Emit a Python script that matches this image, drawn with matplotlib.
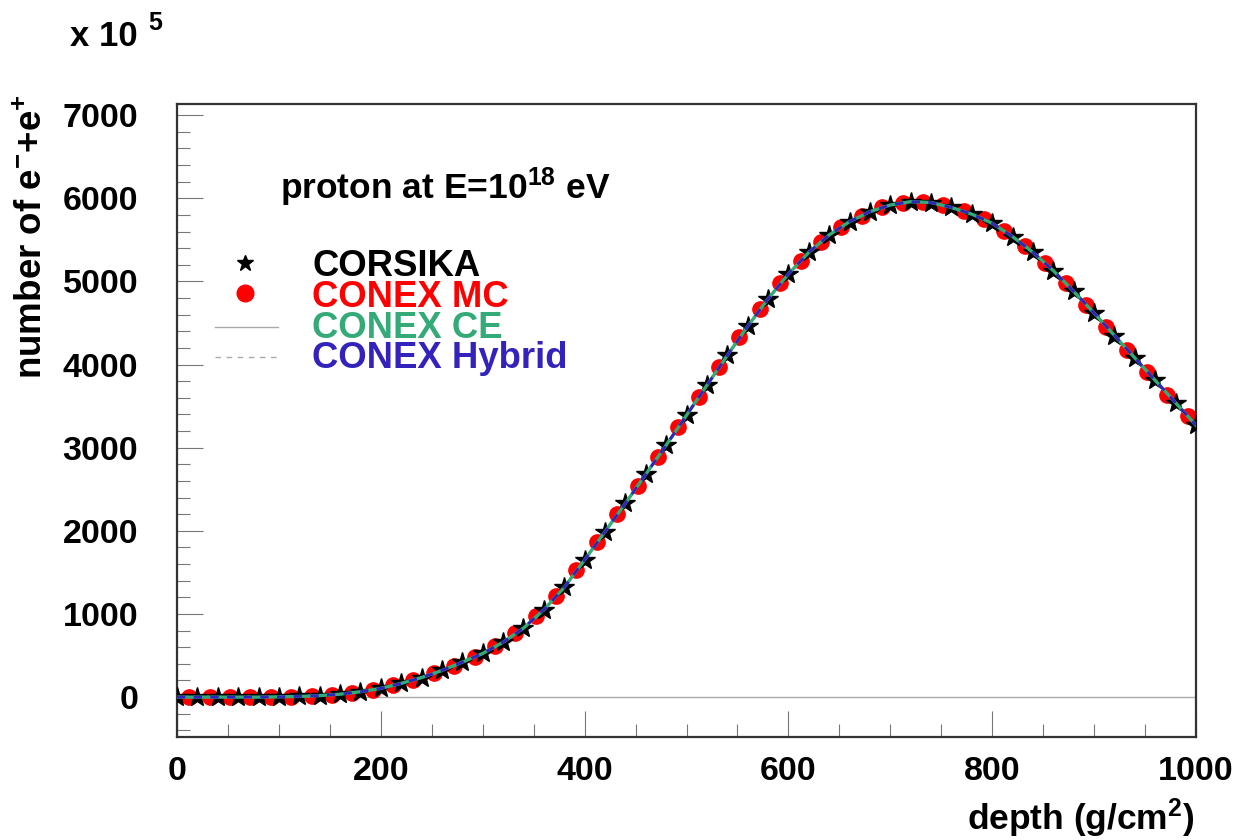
import numpy as np
import matplotlib
matplotlib.use("Agg")
import matplotlib.pyplot as plt
from matplotlib.ticker import MultipleLocator

# ---------------- data ----------------
corsika_depth = list(range(0, 1001, 20))
corsika_n = [0, 0, 0, 0, 0, 3, 8, 18, 35, 65,
             105, 165, 235, 320, 420, 525, 660, 830, 1050, 1320,
             1650, 1990, 2330, 2680, 3030, 3390, 3750, 4110, 4460, 4790,
             5090, 5350, 5560, 5720, 5840, 5920, 5960, 5950, 5890, 5810,
             5700, 5540, 5350, 5130, 4880, 4620, 4350, 4080, 3810, 3540,
             3270]

mc_depth = list(range(12, 1001, 20))
mc_n = [0, 0, 0, 0, 2, 6, 14, 28, 52, 88,
        140, 205, 285, 380, 480, 610, 770, 970, 1220, 1530,
        1860, 2200, 2540, 2890, 3250, 3610, 3970, 4330, 4670, 4980,
        5250, 5480, 5660, 5790, 5890, 5950, 5960, 5920, 5850, 5750,
        5610, 5430, 5220, 4980, 4720, 4450, 4180, 3910, 3640, 3380]

ce_depth = list(range(0, 1001, 20))
ce_n = [0, 0, 0, 0, 0, 3, 8, 18, 35, 65,
        105, 165, 235, 320, 420, 525, 660, 830, 1050, 1320,
        1650, 1990, 2330, 2680, 3030, 3390, 3750, 4110, 4460, 4790,
        5090, 5350, 5560, 5720, 5840, 5920, 5960, 5950, 5890, 5810,
        5700, 5540, 5350, 5130, 4880, 4620, 4350, 4080, 3810, 3540,
        3270]

hyb_depth = list(range(0, 1001, 20))
hyb_n = [0, 0, 0, 0, 0, 3, 8, 18, 35, 65,
         105, 165, 235, 320, 420, 525, 660, 830, 1050, 1320,
         1650, 1990, 2330, 2680, 3030, 3390, 3750, 4110, 4460, 4790,
         5090, 5350, 5560, 5720, 5840, 5920, 5960, 5950, 5890, 5810,
         5700, 5540, 5350, 5130, 4880, 4620, 4350, 4080, 3810, 3540,
         3270]

legend_labels = ["CORSIKA", "CONEX MC", "CONEX CE", "CONEX Hybrid"]
x_label = "depth (g/cm$^{2}$)"
y_label = "number of e$^{-}$+e$^{+}$"
annot = "proton at E=10$^{18}$ eV"

# ---------------- style ----------------
FONT = "Liberation Sans"
plt.rcParams["font.family"] = [FONT, "DejaVu Sans"]
plt.rcParams["font.weight"] = "bold"
plt.rcParams["mathtext.fontset"] = "custom"
plt.rcParams["mathtext.rm"] = FONT + ":bold"
plt.rcParams["mathtext.it"] = FONT + ":bold"
plt.rcParams["mathtext.bf"] = FONT + ":bold"
plt.rcParams["mathtext.default"] = "rm"

GREEN = "#33aa77"
BLUE = "#3322bb"
RED = "#ff0000"

W, H = 1239, 840
fig = plt.figure(figsize=(W / 100, H / 100), dpi=100)
L, R, T, B = 177, 1196, 104, 737
ax = fig.add_axes([L / W, 1 - B / H, (R - L) / W, (B - T) / H])

ax.set_xlim(0, 1000)
ax.set_ylim(-480, 7135)

ax.axhline(0, color="#aaaaaa", lw=1.0, zorder=1)

ax.plot(mc_depth, mc_n, ls="none", marker="o", ms=11, mfc=RED, mec=RED, zorder=2)
ax.plot(corsika_depth, corsika_n, ls="none", marker="*", ms=15, mfc="black",
        mec="black", zorder=3)
ax.plot(ce_depth, ce_n, color=GREEN, lw=2.4, zorder=4)
ax.plot(hyb_depth, hyb_n, color=BLUE, lw=2.0, ls=(0, (3, 3)), zorder=5)

# ticks
ax.xaxis.set_major_locator(MultipleLocator(200))
ax.xaxis.set_minor_locator(MultipleLocator(50))
ax.yaxis.set_major_locator(MultipleLocator(1000))
ax.yaxis.set_minor_locator(MultipleLocator(200))
ax.tick_params(which="both", direction="in", top=False, right=False,
               color="#777777", width=0.8)
ax.tick_params(which="major", length=19)
ax.tick_params(which="minor", length=9.5)
ax.tick_params(axis="y", which="major", pad=28, labelsize=24.5)
ax.tick_params(axis="x", which="major", pad=14, labelsize=24.5)
for lab in ax.get_xticklabels() + ax.get_yticklabels():
    lab.set_fontweight("bold")
for s in ax.spines.values():
    s.set_linewidth(1.6)
    s.set_color("#333333")

# axis titles
fig.text(1195 / W, 1 - 830 / H, x_label, ha="right", va="baseline",
         fontsize=25.5, fontweight="bold")
fig.text(50 / W, 1 - 94 / H, y_label, ha="right", va="top", rotation=90,
         fontsize=26.5, fontweight="bold")

# exponent
fig.text(70 / W, 1 - 46 / H, "x 10", ha="left", va="baseline", fontsize=25,
         fontweight="bold")
fig.text(148 / W, 1 - 30 / H, "5", ha="left", va="baseline", fontsize=18,
         fontweight="bold")

# annotation
fig.text(280 / W, 1 - 199 / H, annot, ha="left", va="baseline", fontsize=25.5,
         fontweight="bold")

# legend (manual, in figure pixel positions)
rows = [276, 307, 338, 368]
colors = ["black", RED, GREEN, BLUE]
for lab, yb, c in zip(legend_labels, rows, colors):
    fig.text(312 / W, 1 - yb / H, lab, ha="left", va="baseline", fontsize=26.3,
             fontweight="bold", color=c)
fig.lines.append(plt.Line2D([245 / W], [1 - 263 / H], transform=fig.transFigure,
                            ls="none", marker="*", ms=12, color="black"))
fig.lines.append(plt.Line2D([245 / W], [1 - 293 / H], transform=fig.transFigure,
                            ls="none", marker="o", ms=12, color=RED))
fig.lines.append(plt.Line2D([215 / W, 278 / W], [1 - 327 / H, 1 - 327 / H],
                            transform=fig.transFigure, color="#aaaaaa", lw=1.0))
fig.lines.append(plt.Line2D([215 / W, 278 / W], [1 - 357 / H, 1 - 357 / H],
                            transform=fig.transFigure, color="#aaaaaa", lw=1.0,
                            ls=(0, (4, 4))))

fig.savefig("out.png", dpi=100, facecolor="white")
